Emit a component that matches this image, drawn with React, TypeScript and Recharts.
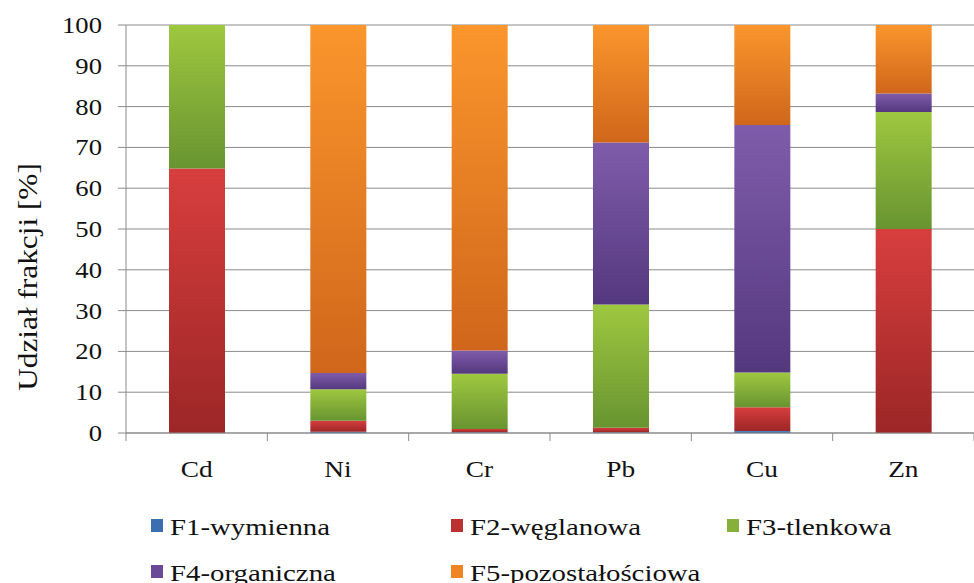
import React from 'react';
import { BarChart, Bar, XAxis, YAxis, CartesianGrid } from 'recharts';

const categories = ['Cd', 'Ni', 'Cr', 'Pb', 'Cu', 'Zn'];
const f1 = [0, 0.3, 0.2, 0.2, 0.5, 0];
const f2 = [64.8, 2.7, 0.8, 1.1, 5.8, 50];
const f3 = [35.2, 7.7, 13.5, 30.2, 8.5, 28.7];
const f4 = [0, 4.0, 5.7, 39.7, 60.7, 4.5];
const f5 = [0, 85.3, 79.8, 28.8, 24.5, 16.8];
const yTicks = [0, 10, 20, 30, 40, 50, 60, 70, 80, 90, 100];
const seriesNames = ['F1-wymienna', 'F2-węglanowa', 'F3-tlenkowa', 'F4-organiczna', 'F5-pozostałościowa'];
const seriesKeys = ['f1', 'f2', 'f3', 'f4', 'f5'];
const yLabel = 'Udział frakcji [%]';

const data = categories.map((c, i) => ({
  name: c,
  f1: f1[i],
  f2: f2[i],
  f3: f3[i],
  f4: f4[i],
  f5: f5[i],
}));

const gradients = [
  ['#5a8ccc', '#2e5e9c'],
  ['#d83e3e', '#9c2626'],
  ['#9ec83f', '#689431'],
  ['#7f5cab', '#54387e'],
  ['#fa962c', '#d0661b'],
];
const legendColors = ['#3d6fb0', '#bb3030', '#86b03a', '#6a4a96', '#ef8424'];

const FONT = 'Liberation Serif';
const PLOT_LEFT = 126;
const PLOT_RIGHT = 974;
const PLOT_TOP = 25;
const PLOT_BOTTOM = 433;
const TEXT_COLOR = '#111';

const XTick = (props: any) => {
  const { x, payload, index, visibleTicksCount } = props;
  const n = visibleTicksCount || categories.length;
  const band = (PLOT_RIGHT - PLOT_LEFT) / n;
  return (
    <g>
      <line x1={x - band / 2} x2={x - band / 2} y1={PLOT_BOTTOM} y2={PLOT_BOTTOM + 8} stroke="#8a8a8a" strokeWidth={1} />
      {index === n - 1 && (
        <line x1={x + band / 2} x2={x + band / 2} y1={PLOT_BOTTOM} y2={PLOT_BOTTOM + 8} stroke="#8a8a8a" strokeWidth={1} />
      )}
      <text
        transform={`translate(${x},477) scale(1.14,1)`}
        textAnchor="middle"
        style={{ fontSize: 24, fontFamily: FONT }}
        fill={TEXT_COLOR}
      >
        {payload.value}
      </text>
    </g>
  );
};

const YTick = (props: any) => {
  const { y, payload } = props;
  return (
    <text
      transform={`translate(102,${y + 8}) scale(1.11,1)`}
      textAnchor="end"
      style={{ fontSize: 24, fontFamily: FONT }}
      fill={TEXT_COLOR}
    >
      {payload.value}
    </text>
  );
};

const YLabel = () => (
  <text
    transform="translate(28,277) rotate(-90) scale(1.16,1)"
    textAnchor="middle"
    dominantBaseline="central"
    style={{ fontSize: 27, fontFamily: FONT }}
    fill={TEXT_COLOR}
  >
    {yLabel}
  </text>
);

const legendPos = [
  { left: 151, top: 519 },
  { left: 451, top: 519 },
  { left: 727, top: 519 },
  { left: 151, top: 565 },
  { left: 451, top: 565 },
];

export default function App() {
  return (
    <div style={{ position: 'absolute', left: 0, top: 0, width: 974, height: 583, background: '#fff', overflow: 'hidden', fontFamily: FONT }}>
      <BarChart
        width={974}
        height={583}
        data={data}
        margin={{ top: PLOT_TOP, right: 0, bottom: 110, left: 0 }}
        barCategoryGap={0}
      >
        <defs>
          {gradients.map((g, i) => (
            <linearGradient key={i} id={`grad${i}`} x1="0" y1="0" x2="0" y2="1">
              <stop offset="0%" stopColor={g[0]} />
              <stop offset="100%" stopColor={g[1]} />
            </linearGradient>
          ))}
        </defs>
        <CartesianGrid vertical={false} stroke="#8a8a8a" strokeWidth={1} />
        <XAxis
          dataKey="name"
          height={40}
          axisLine={{ stroke: '#8a8a8a' }}
          tickLine={false}
          tick={<XTick />}
          interval={0}
        />
        <YAxis
          width={126}
          domain={[0, 100]}
          ticks={yTicks}
          interval={0}
          axisLine={{ stroke: '#8a8a8a' }}
          tickLine={{ stroke: '#8a8a8a' }}
          tickSize={8}
          tick={<YTick />}
          label={<YLabel />}
        />
        {seriesKeys.map((k, i) => (
          <Bar key={k} dataKey={k} name={seriesNames[i]} stackId="a" fill={`url(#grad${i})`} barSize={56} isAnimationActive={false} />
        ))}
      </BarChart>
      {seriesNames.map((name, i) => (
        <div key={name} style={{ position: 'absolute', left: legendPos[i].left, top: legendPos[i].top, display: 'flex', alignItems: 'flex-start', whiteSpace: 'nowrap' }}>
          <div style={{ width: 12, height: 13, background: legendColors[i], marginRight: 7 }} />
          <div style={{ fontSize: 24, lineHeight: '16px', color: TEXT_COLOR, fontFamily: FONT, transform: 'scaleX(1.2)', transformOrigin: 'left center' }}>{name}</div>
        </div>
      ))}
    </div>
  );
}
